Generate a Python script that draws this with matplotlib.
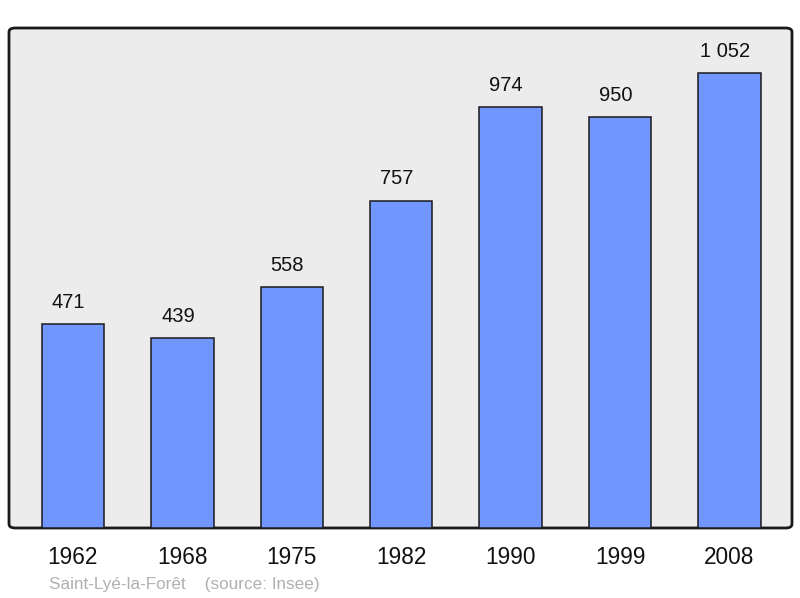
import matplotlib
matplotlib.use("Agg")
import matplotlib.pyplot as plt
from matplotlib.patches import FancyBboxPatch

plt.rcParams['font.family'] = ['Liberation Sans', 'DejaVu Sans']

years = ["1962", "1968", "1975", "1982", "1990", "1999", "2008"]
population = [471, 439, 558, 757, 974, 950, 1052]
value_labels = ["471", "439", "558", "757", "974", "950", "1 052"]

fig = plt.figure(figsize=(8.0, 5.98), dpi=100)
W, H = 800, 598
ax = fig.add_axes([9 / W, 1 - 528 / H, (792 - 9) / W, (528 - 28) / H])
ax.set_facecolor('none')

bg = FancyBboxPatch((0, 0), 1, 1, boxstyle="round,pad=0,rounding_size=0.008",
                    transform=ax.transAxes, facecolor='#ececec', edgecolor='#1a1a1a',
                    linewidth=2, clip_on=False, zorder=0)
ax.add_patch(bg)

x = list(range(len(years)))
ax.bar(x, population, width=0.57, color='#7097ff', edgecolor='#1a1a1a',
       linewidth=1.1, zorder=2)
for xi, v, lab in zip(x, population, value_labels):
    ax.text(xi - 0.04, v + 50, lab, ha='center', va='center', fontsize=14.5, color='#111111')

ax.set_xlim(-0.584, 6.571)
ax.set_ylim(0, 1156)
ax.set_xticks(x)
ax.set_xticklabels(years, fontsize=16.3, color='#111111')
ax.tick_params(axis='x', length=0, pad=13)
ax.set_yticks([])
for s in ax.spines.values():
    s.set_visible(False)

fig.text(49 / W, 1 - 584 / H, "Saint-Lyé-la-Forêt    (source: Insee)", fontsize=12.3,
         color='#b0b0b0', ha='left', va='center')

fig.savefig("out.png", dpi=100)
